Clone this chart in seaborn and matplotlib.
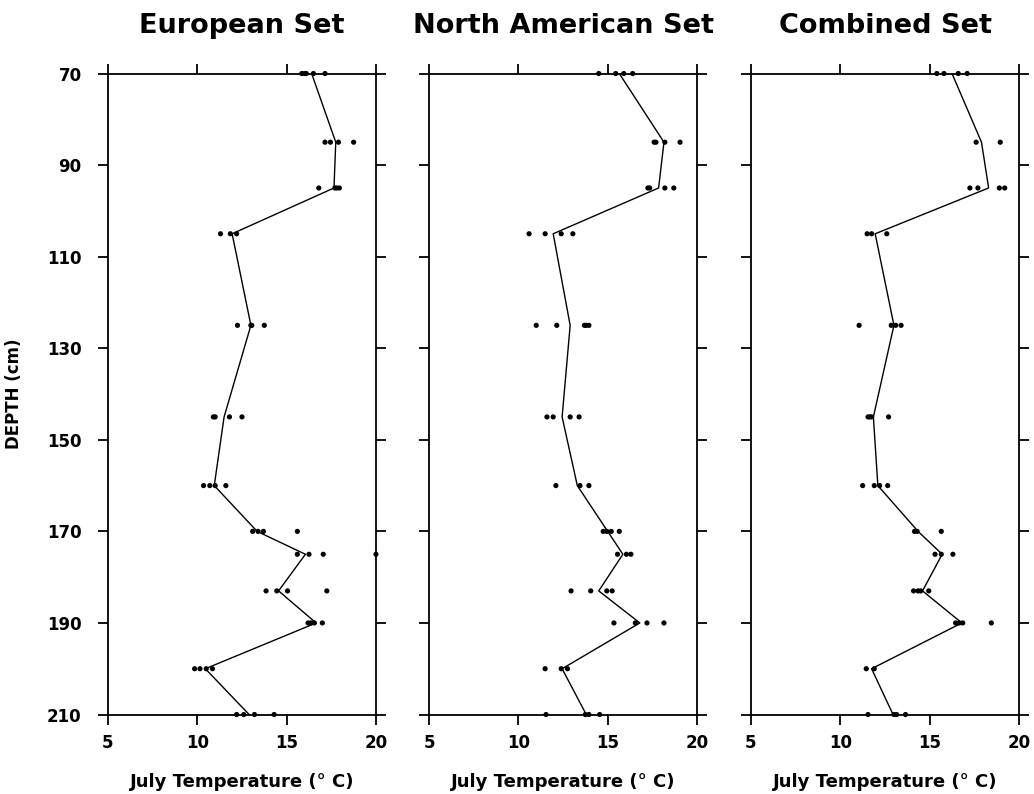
import matplotlib
matplotlib.use("Agg")
import matplotlib.pyplot as plt
import seaborn as sns
import pandas as pd

depths = [70, 85, 95, 105, 125, 145, 160, 170, 175, 183, 190, 200, 210]

set_names = ["European Set", "North American Set", "Combined Set"]

euro_points = [
    [15.85, 16.0, 16.1, 16.5, 17.15],
    [17.15, 17.45, 17.9, 18.75],
    [16.8, 17.7, 17.8, 17.95],
    [11.3, 11.85, 12.2],
    [12.25, 13.0, 13.05, 13.75],
    [10.9, 11.0, 11.8, 12.5],
    [10.35, 10.7, 11.0, 11.6],
    [13.1, 13.4, 13.7, 15.6],
    [15.6, 16.25, 17.05, 20.0],
    [13.85, 14.45, 15.05, 17.25],
    [16.2, 16.35, 16.55, 17.0],
    [9.85, 10.15, 10.5, 10.85],
    [12.2, 12.6, 13.2, 14.3],
]
euro_line = [16.4, 17.75, 17.65, 11.95, 13.0, 11.5, 10.95, 13.35, 16.05, 14.55, 16.65, 10.45, 12.9]

na_points = [
    [14.5, 15.45, 15.9, 16.4],
    [17.6, 17.7, 18.2, 19.05],
    [17.25, 17.35, 18.2, 18.7],
    [10.6, 11.5, 12.4, 13.05],
    [11.0, 12.15, 13.7, 13.8, 13.95],
    [11.6, 11.95, 12.9, 13.4],
    [12.1, 13.45, 13.95],
    [14.75, 14.95, 15.2, 15.65],
    [15.55, 16.05, 16.3],
    [12.95, 14.05, 14.95, 15.25],
    [15.35, 16.55, 17.2, 18.15],
    [11.5, 12.4, 12.75],
    [11.55, 13.75, 13.95, 14.55],
]
na_line = [15.65, 18.15, 17.85, 11.95, 12.9, 12.45, 13.3, 15.0, 15.85, 14.5, 16.8, 12.45, 13.8]

comb_points = [
    [15.4, 15.8, 16.6, 17.1],
    [17.6, 18.95],
    [17.25, 17.7, 18.9, 19.2],
    [11.5, 11.75, 12.6],
    [11.05, 12.85, 13.1, 13.4],
    [11.55, 11.65, 11.75, 12.7],
    [11.25, 11.9, 12.2, 12.65],
    [14.15, 14.3, 15.65],
    [15.3, 15.65, 16.3],
    [14.1, 14.35, 14.5, 14.95],
    [16.45, 16.65, 16.85, 18.45],
    [11.45, 11.9],
    [11.55, 13.0, 13.15, 13.65],
]
comb_line = [16.25, 17.9, 18.3, 11.95, 13.0, 11.85, 12.1, 14.35, 15.7, 14.6, 16.8, 11.75, 12.95]

x_ticks = [5, 10, 15, 20]
y_ticks = [70, 90, 110, 130, 150, 170, 190, 210]

all_points = [euro_points, na_points, comb_points]
all_lines = [euro_line, na_line, comb_line]

sns.set_style("ticks")
plt.rcParams["font.family"] = ["DejaVu Sans"]
plt.rcParams["font.weight"] = "bold"
plt.rcParams["text.color"] = "black"
plt.rcParams["axes.labelcolor"] = "black"
plt.rcParams["xtick.color"] = "black"
plt.rcParams["ytick.color"] = "black"

fig = plt.figure(figsize=(10.34, 7.94), dpi=100)
lefts = [0.1044, 0.4149, 0.7263]
bottom, width, height = 0.1001, 0.2592, 0.8073

for i, name in enumerate(set_names):
    ax = fig.add_axes([lefts[i], bottom, width, height])
    rows = []
    for d, pts in zip(depths, all_points[i]):
        for t in pts:
            rows.append({"depth": d, "temp": t})
    df_pts = pd.DataFrame(rows)
    df_line = pd.DataFrame({"depth": depths, "temp": all_lines[i]})
    sns.lineplot(data=df_line, x="temp", y="depth", sort=False, color="black",
                 linewidth=1.0, ax=ax, estimator=None)
    sns.scatterplot(data=df_pts, x="temp", y="depth", color="black", s=14,
                    edgecolor="none", ax=ax, zorder=3, clip_on=False)
    ax.set_xlim(5, 20)
    ax.set_ylim(210, 70)
    ax.set_xticks(x_ticks)
    ax.set_yticks(y_ticks)
    ax.tick_params(axis="both", which="both", direction="out", length=7, width=1.3,
                   top=True, right=True, labelsize=12, color="black", labelcolor="black")
    ax.tick_params(axis="x", pad=7)
    ax.tick_params(axis="y", pad=12)
    for lab in ax.get_xticklabels() + ax.get_yticklabels():
        lab.set_fontweight("bold")
    if i > 0:
        ax.set_yticklabels([])
        ax.set_ylabel("")
    else:
        ax.set_ylabel("DEPTH (cm)", fontsize=12, fontweight="bold")
        ax.yaxis.set_label_coords(-0.318, 0.5)
    ax.set_xlabel("July Temperature (° C)", fontsize=13, fontweight="bold")
    ax.xaxis.set_label_coords(0.5, -0.091)
    ax.set_title(name, fontsize=19.5, fontweight="bold", y=1.063, pad=0)
    for sp in ax.spines.values():
        sp.set_linewidth(1.3)
        sp.set_color("black")

fig.savefig("out.png", dpi=100)
